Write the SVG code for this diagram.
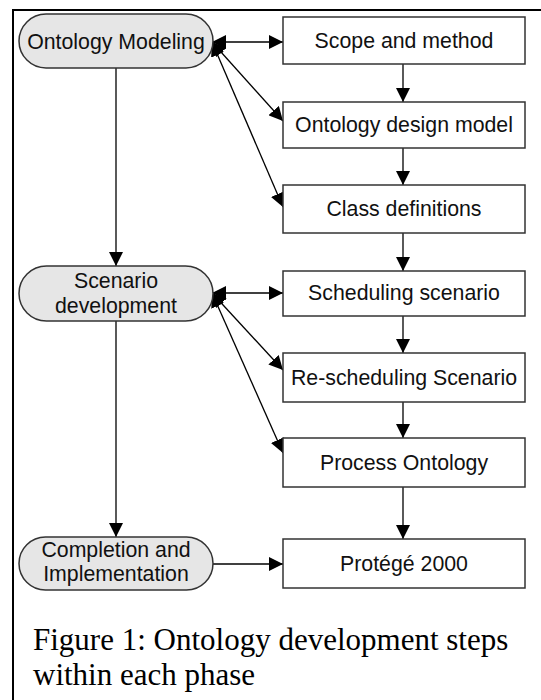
<svg xmlns="http://www.w3.org/2000/svg" width="541" height="700" viewBox="0 0 541 700">
  <style>
    .phase { fill: #e6e6e6; stroke: #333; stroke-width: 1.5; }
    .step { fill: #fff; stroke: #333; stroke-width: 1.5; }
    .lbl { font-family: "Liberation Sans", Arial, sans-serif; font-size: 21.3px; fill: #111; text-anchor: middle; }
    .cap { font-family: "Liberation Serif", "Times New Roman", serif; font-size: 31px; fill: #000; }
    .edge { stroke: #000; stroke-width: 1.3; fill: none; }
    .one { marker-end: url(#head); }
    .two { marker-start: url(#head); marker-end: url(#head); }
  </style>
  <defs>
    <marker id="head" viewBox="0 0 14 14" refX="14" refY="7" markerWidth="14" markerHeight="14" markerUnits="userSpaceOnUse" orient="auto-start-reverse">
      <path d="M0,0 L14,7 L0,14 z" fill="#000"/>
    </marker>
  </defs>

  <rect width="541" height="700" fill="#fff"/>
  <!-- frame -->
  <path d="M13,700 V10 H541" fill="none" stroke="#000" stroke-width="2"/>

  <g id="connectors">
    <!-- phase to steps (both ways) -->
    <line class="edge two" x1="212" y1="42" x2="283" y2="42"/>
    <line class="edge two" x1="212" y1="42" x2="283" y2="121"/>
    <line class="edge two" x1="212" y1="42" x2="283" y2="207"/>
    <line class="edge two" x1="212" y1="293" x2="283" y2="293"/>
    <line class="edge two" x1="212" y1="293" x2="283" y2="370"/>
    <line class="edge two" x1="212" y1="293" x2="283" y2="453"/>
    <line class="edge one" x1="213" y1="564" x2="283" y2="564"/>
    <!-- phase sequence -->
    <line class="edge one" x1="116" y1="68" x2="116" y2="266"/>
    <line class="edge one" x1="116" y1="321" x2="116" y2="537"/>
    <!-- step sequence -->
    <line class="edge one" x1="403" y1="64" x2="403" y2="102"/>
    <line class="edge one" x1="403" y1="148" x2="403" y2="185"/>
    <line class="edge one" x1="403" y1="233" x2="403" y2="271"/>
    <line class="edge one" x1="403" y1="316" x2="403" y2="353"/>
    <line class="edge one" x1="403" y1="402" x2="403" y2="438"/>
    <line class="edge one" x1="403" y1="487" x2="403" y2="539"/>
  </g>

  <g id="ontology-modeling">
    <rect class="phase" x="19" y="14" width="194" height="54" rx="27"/>
    <text class="lbl" x="116" y="49">Ontology Modeling</text>
  </g>
  <g id="scenario-development">
    <rect class="phase" x="19" y="266" width="194" height="55" rx="27.5"/>
    <text class="lbl" x="116" y="288">Scenario</text>
    <text class="lbl" x="116" y="313">development</text>
  </g>
  <g id="completion">
    <rect class="phase" x="19" y="537" width="194" height="53" rx="26.5"/>
    <text class="lbl" x="116" y="557">Completion and</text>
    <text class="lbl" x="116" y="581">Implementation</text>
  </g>

  <g id="scope">
    <rect class="step" x="283" y="17" width="242" height="47"/>
    <text class="lbl" x="404" y="48">Scope and method</text>
  </g>
  <g id="design-model">
    <rect class="step" x="283" y="102" width="242" height="46"/>
    <text class="lbl" x="404" y="132">Ontology design model</text>
  </g>
  <g id="class-definitions">
    <rect class="step" x="283" y="185" width="242" height="48"/>
    <text class="lbl" x="404" y="216">Class definitions</text>
  </g>
  <g id="scheduling">
    <rect class="step" x="283" y="271" width="242" height="45"/>
    <text class="lbl" x="404" y="300">Scheduling scenario</text>
  </g>
  <g id="rescheduling">
    <rect class="step" x="283" y="353" width="242" height="49"/>
    <text class="lbl" x="404" y="385">Re-scheduling Scenario</text>
  </g>
  <g id="process-ontology">
    <rect class="step" x="283" y="438" width="242" height="49"/>
    <text class="lbl" x="404" y="470">Process Ontology</text>
  </g>
  <g id="protege">
    <rect class="step" x="283" y="539" width="242" height="49"/>
    <text class="lbl" x="404" y="571">Protégé 2000</text>
  </g>

  <text class="cap" x="33" y="650">Figure 1: Ontology development steps</text>
  <text class="cap" x="33" y="685">within each phase</text>
</svg>
